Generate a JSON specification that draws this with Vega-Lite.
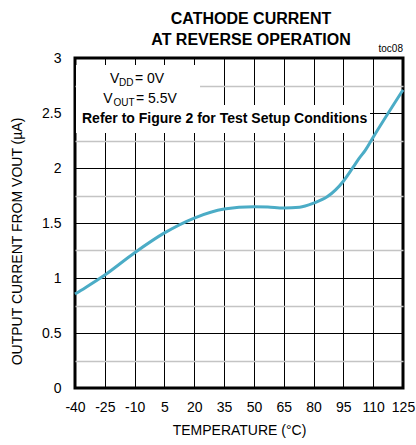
{
  "$schema": "https://vega.github.io/schema/vega-lite/v6.json",
  "autosize": "none",
  "width": 328,
  "height": 330,
  "padding": {"left": 75, "top": 58, "right": 13, "bottom": 57},
  "background": "white",
  "config": {
    "font": "Liberation Sans",
    "view": {"stroke": "black", "strokeWidth": 3},
    "axis": {"labelFont": "Liberation Sans", "titleFont": "Liberation Sans", "labelColor": "black", "titleColor": "black", "titleFontWeight": "normal"}
  },
  "title": {
    "text": ["CATHODE CURRENT", "AT REVERSE OPERATION"],
    "fontSize": 16,
    "fontWeight": "bold",
    "font": "Liberation Sans",
    "color": "black",
    "anchor": "middle",
    "dx": 12,
    "lineHeight": 21.5,
    "offset": -4
  },
  "datasets": {
    "curve": [
      {"temp": -40, "current": 0.855},
      {"temp": -35, "current": 0.91},
      {"temp": -25, "current": 1.027},
      {"temp": -10, "current": 1.23},
      {"temp": 5, "current": 1.41},
      {"temp": 20, "current": 1.545},
      {"temp": 35, "current": 1.627},
      {"temp": 50, "current": 1.648},
      {"temp": 57, "current": 1.645},
      {"temp": 65, "current": 1.636},
      {"temp": 73, "current": 1.643},
      {"temp": 80, "current": 1.68},
      {"temp": 87, "current": 1.74},
      {"temp": 95, "current": 1.88},
      {"temp": 100, "current": 2.01},
      {"temp": 103, "current": 2.09},
      {"temp": 106, "current": 2.16},
      {"temp": 110, "current": 2.28},
      {"temp": 125, "current": 2.71}
    ],
    "boxes": [
      {"temp": -39.5, "temp2": 22.9, "current": 2.573, "current2": 2.936},
      {"temp": -39.5, "temp2": 108.4, "current": 2.318, "current2": 2.573}
    ],
    "mainText": [
      {"temp": -22.4, "current": 2.773, "label": "V"},
      {"temp": -9.82, "current": 2.773, "label": "= 0V"},
      {"temp": -25.76, "current": 2.588, "label": "V"},
      {"temp": -9.32, "current": 2.588, "label": "= 5.5V"}
    ],
    "subText": [
      {"temp": -17.87, "current": 2.745, "label": "DD"},
      {"temp": -20.63, "current": 2.564, "label": "OUT"}
    ],
    "boldText": [
      {"temp": -36.48, "current": 2.409, "label": "Refer to Figure 2 for Test Setup Conditions"}
    ],
    "tag": [
      {"temp": 125, "current": 3, "label": "toc08"}
    ]
  },
  "encoding": {
    "x": {
      "field": "temp", "type": "quantitative",
      "scale": {"domain": [-40, 125], "nice": false, "zero": false},
      "axis": {
        "values": [-40, -25, -10, 5, 20, 35, 50, 65, 80, 95, 110, 125],
        "labelExpr": "datum.value + ''",
        "title": "TEMPERATURE (°C)",
        "titleFontSize": 14,
        "titlePadding": 9,
        "labelFontSize": 14,
        "labelPadding": 12,
        "ticks": false,
        "domain": false,
        "grid": true,
        "gridColor": "black",
        "gridWidth": 1,
        "gridOpacity": 1,
        "labelFlush": false
      }
    },
    "y": {
      "field": "current", "type": "quantitative",
      "scale": {"domain": [0, 3], "nice": false},
      "axis": {
        "values": [0, 0.25, 0.5, 0.75, 1, 1.25, 1.5, 1.75, 2, 2.25, 2.5, 2.75, 3],
        "labelExpr": "datum.value % 0.5 === 0 ? datum.value + '' : ''",
        "title": "OUTPUT CURRENT FROM VOUT (µA)",
        "titleFontSize": 14,
        "titleX": -51,
        "titleY": 183,
        "labelFontSize": 14,
        "labelPadding": 14,
        "ticks": false,
        "domain": false,
        "grid": true,
        "gridOpacity": 1,
        "gridColor": {"condition": {"test": "datum.value % 0.5 === 0", "value": "black"}, "value": "#c4c4c4"},
        "gridWidth": {"condition": {"test": "datum.value % 0.5 === 0", "value": 1}, "value": 1.5},
        "labelFlush": false
      }
    }
  },
  "layer": [
    {
      "data": {"name": "boxes"},
      "mark": {"type": "rect", "color": "white"},
      "encoding": {
        "x2": {"field": "temp2"},
        "y2": {"field": "current2"}
      }
    },
    {
      "data": {"name": "curve"},
      "mark": {"type": "line", "color": "#4bacc6", "strokeWidth": 3, "interpolate": "monotone"}
    },
    {
      "data": {"name": "mainText"},
      "mark": {"type": "text", "align": "left", "baseline": "alphabetic", "fontSize": 14, "color": "black"},
      "encoding": {"text": {"field": "label"}}
    },
    {
      "data": {"name": "subText"},
      "mark": {"type": "text", "align": "left", "baseline": "alphabetic", "fontSize": 10, "color": "black"},
      "encoding": {"text": {"field": "label"}}
    },
    {
      "data": {"name": "boldText"},
      "mark": {"type": "text", "align": "left", "baseline": "alphabetic", "fontSize": 14, "fontWeight": "bold", "color": "black"},
      "encoding": {"text": {"field": "label"}}
    },
    {
      "data": {"name": "tag"},
      "mark": {"type": "text", "align": "right", "baseline": "alphabetic", "fontSize": 10, "dy": -6, "color": "black"},
      "encoding": {"text": {"field": "label"}}
    }
  ]
}
